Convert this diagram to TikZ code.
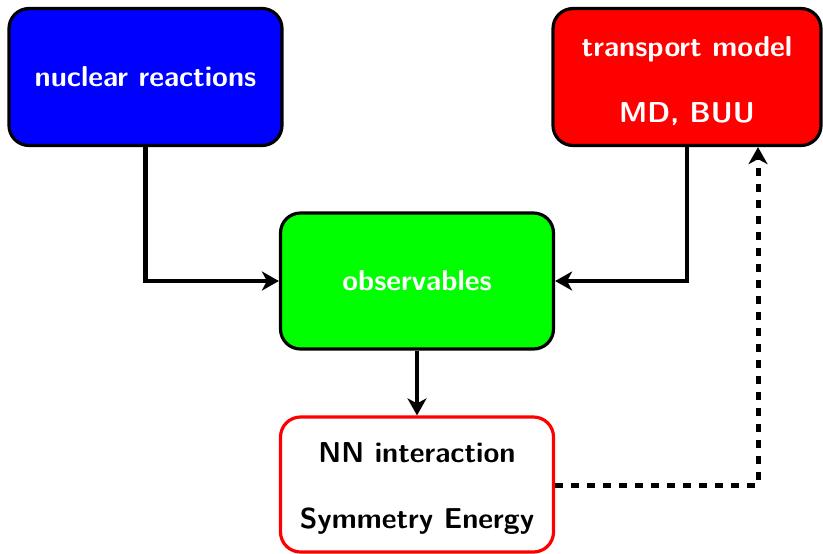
\documentclass[tikz,border=0pt]{standalone}
\usetikzlibrary{arrows.meta}
\newcommand{\topstrut}{\rule{0pt}{14pt}}
\begin{document}
\begin{tikzpicture}[x=0.5pt,y=-0.5pt,
  box/.style={draw=black,line width=1.6pt,rounded corners=10pt,
    minimum width=136.5pt,minimum height=68.5pt,align=center,
    font=\Large\sffamily\bfseries,inner sep=0pt},
  filledbox/.style={box,text=white},
  link/.style={line width=2.4pt,-{Stealth[length=8.5pt,width=9.5pt,inset=2.5pt]}},
  dotlink/.style={link,line width=2.5pt,dash pattern=on 4pt off 4pt}]
  \useasboundingbox (0,0) rectangle (823,553);

  \node[filledbox,fill=blue] (reac) at (145.5,77) {nuclear reactions};
  \node[filledbox,fill=red,minimum width=134pt] (trans) at (687,77)
    {\topstrut transport model\\[15pt]MD, BUU};
  \node[filledbox,fill=green,minimum height=68pt] (obs) at (417,281) {observables};
  \node[box,draw=red,fill=white,minimum height=67.5pt] (nn) at (417,484.5)
    {\topstrut NN interaction\\[15pt]Symmetry Energy};

  \coordinate (dashcorner) at (758,485);

  \draw[link] (reac.south) |- (obs.west);
  \draw[link] (trans.south) |- (obs.east);
  \draw[link] (obs.south) -- (nn.north);
  \draw[dotlink] (nn.east |- dashcorner) -- (dashcorner) -- (dashcorner |- trans.south);
\end{tikzpicture}
\end{document}
